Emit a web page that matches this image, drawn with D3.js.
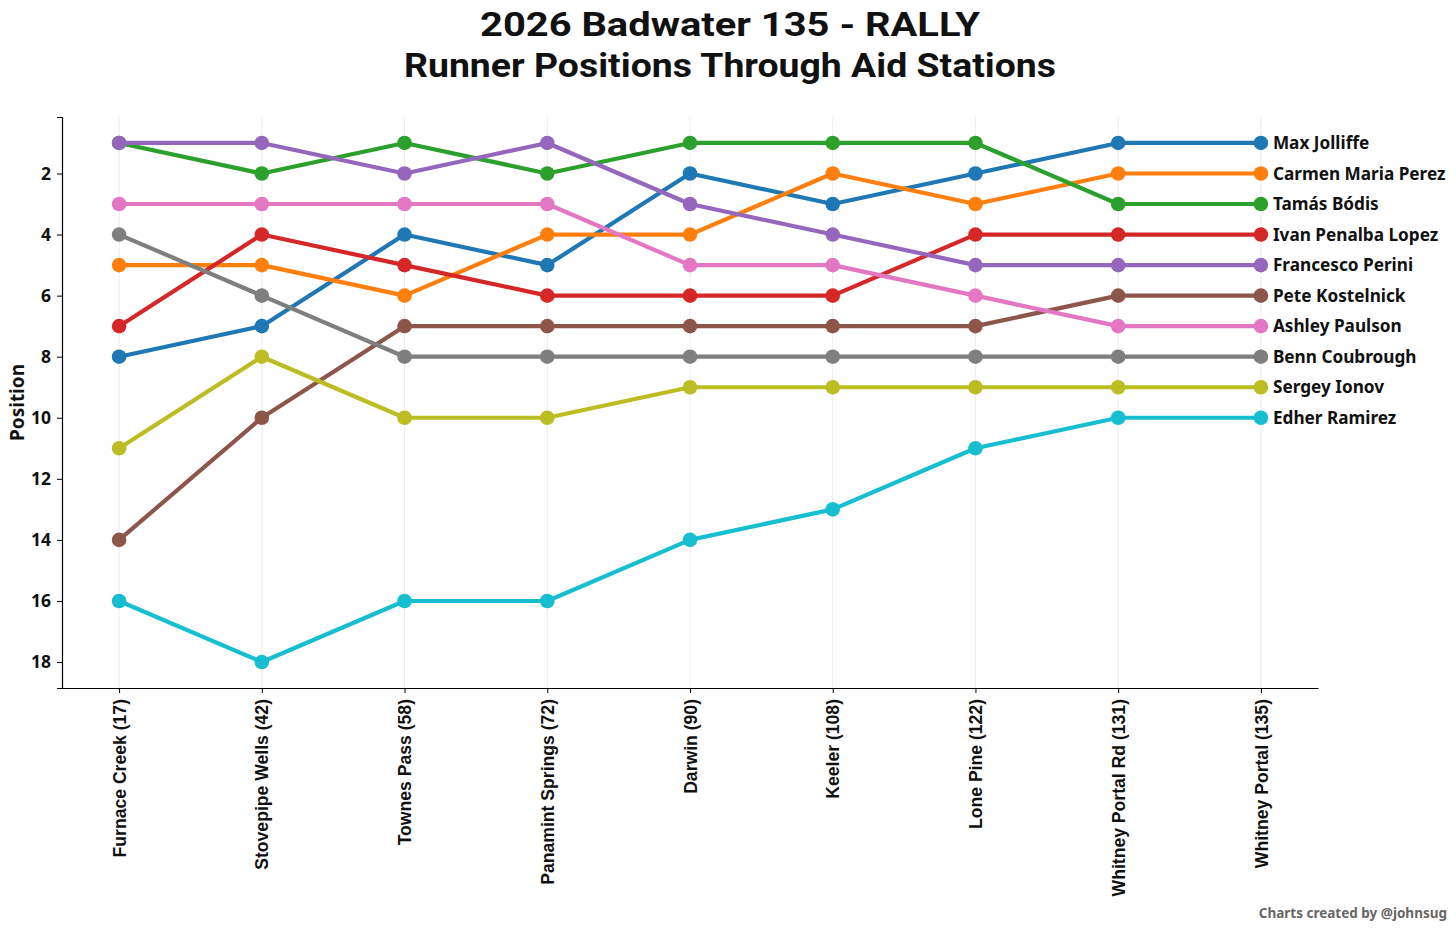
<!DOCTYPE html>
<html>
<head>
<meta charset="utf-8">
<script src="https://cdn.jsdelivr.net/npm/d3@7"></script>
<style>
  body { margin: 0; background: #fff; }
  svg text { fill: #111; }
</style>
</head>
<body>
<div id="chart"></div>
<script>
// Aid stations (mile in brackets)
const stations = ["Furnace Creek (17)", "Stovepipe Wells (42)", "Townes Pass (58)", "Panamint Springs (72)",
                  "Darwin (90)", "Keeler (108)", "Lone Pine (122)", "Whitney Portal Rd (131)", "Whitney Portal (135)"];

const runners = ["Max Jolliffe", "Carmen Maria Perez", "Tamás Bódis", "Ivan Penalba Lopez", "Francesco Perini",
                 "Pete Kostelnick", "Ashley Paulson", "Benn Coubrough", "Sergey Ionov", "Edher Ramirez"];

// positions at each station, one row per runner
const positions = [
  [8, 7, 4, 5, 2, 3, 2, 1, 1],
  [5, 5, 6, 4, 4, 2, 3, 2, 2],
  [1, 2, 1, 2, 1, 1, 1, 3, 3],
  [7, 4, 5, 6, 6, 6, 4, 4, 4],
  [1, 1, 2, 1, 3, 4, 5, 5, 5],
  [14, 10, 7, 7, 7, 7, 7, 6, 6],
  [3, 3, 3, 3, 5, 5, 6, 7, 7],
  [4, 6, 8, 8, 8, 8, 8, 8, 8],
  [11, 8, 10, 10, 9, 9, 9, 9, 9],
  [16, 18, 16, 16, 14, 13, 11, 10, 10]
];

const yTicks = [2, 4, 6, 8, 10, 12, 14, 16, 18];

const colors = ["#1f77b4", "#ff7f0e", "#2ca02c", "#d62728", "#9467bd",
                "#8c564b", "#e377c2", "#7f7f7f", "#bcbd22", "#17becf"];

const W = 1456, H = 930;
const margin = {top: 117, right: 138, bottom: 242, left: 62};
const width = W - margin.left - margin.right,
      height = H - margin.top - margin.bottom;

const svg = d3.select("#chart").append("svg")
    .attr("width", W).attr("height", H);

const plexFont = "'Noto Sans', 'Open Sans', sans-serif";

// Title (Roboto keeps the two close lines from colliding)
svg.append("text")
   .attr("x", 730).attr("y", 36)
   .attr("text-anchor", "middle")
   .attr("textLength", 500).attr("lengthAdjust", "spacingAndGlyphs")
   .style("font-family", "Roboto, sans-serif").style("font-weight", "700").style("font-size", "34px")
   .text("2026 Badwater 135 - RALLY");
svg.append("text")
   .attr("x", 730).attr("y", 77)
   .attr("text-anchor", "middle")
   .attr("textLength", 652).attr("lengthAdjust", "spacingAndGlyphs")
   .style("font-family", "Roboto, sans-serif").style("font-weight", "700").style("font-size", "34px")
   .text("Runner Positions Through Aid Stations");

const g = svg.append("g").attr("transform", `translate(${margin.left},${margin.top})`);

// x scale with matplotlib-like 5% padding
const x = d3.scaleLinear().domain([-0.4, stations.length - 1 + 0.4]).range([0, width]);
const y = d3.scaleLinear().domain([0.15, 18.85]).range([0, height]);

// faint vertical grid
g.selectAll(".grid")
 .data(stations)
 .enter().append("line")
 .attr("x1", (d, i) => x(i)).attr("x2", (d, i) => x(i))
 .attr("y1", 0).attr("y2", height)
 .attr("stroke", "#e8e8e8").attr("stroke-width", 0.8);

// Y axis
const yAxis = g.append("g")
   .call(d3.axisLeft(y).tickValues(yTicks).tickSize(5).tickPadding(6));
yAxis.select(".domain").attr("stroke", "#000").attr("stroke-width", 1.2);
yAxis.selectAll("text")
   .style("font-family", plexFont).style("font-weight", "700").style("font-size", "17.5px").style("fill", "#111");

// X axis
const xAxis = g.append("g")
   .attr("transform", `translate(0,${height})`)
   .call(d3.axisBottom(x).tickValues(d3.range(stations.length)).tickFormat(i => stations[i]).tickSize(5).tickSizeOuter(0));
xAxis.select(".domain").attr("stroke", "#000").attr("stroke-width", 1.2);
xAxis.selectAll("text")
   .attr("transform", "rotate(-90)")
   .attr("x", -11).attr("y", 0).attr("dy", "0.35em")
   .style("text-anchor", "end")
   .style("font-family", "'Liberation Sans', Arial, sans-serif").style("font-weight", "700").style("font-size", "17.6px").style("fill", "#111");

// Y label
svg.append("text")
   .attr("transform", `translate(24, ${margin.top + height / 2}) rotate(-90)`)
   .attr("text-anchor", "middle")
   .style("font-family", plexFont).style("font-weight", "700").style("font-size", "19px")
   .text("Position");

// Lines and points
const line = d3.line()
   .x((d, i) => x(i))
   .y(d => y(d));

runners.forEach((name, r) => {
  g.append("path")
   .datum(positions[r])
   .attr("fill", "none")
   .attr("stroke", colors[r])
   .attr("stroke-width", 4.2)
   .attr("stroke-linejoin", "round")
   .attr("d", line);

  g.selectAll(".dot" + r)
   .data(positions[r])
   .enter().append("circle")
   .attr("cx", (d, i) => x(i))
   .attr("cy", d => y(d))
   .attr("r", 7.3)
   .attr("fill", colors[r]);

  const last = positions[r][positions[r].length - 1];
  g.append("text")
   .attr("x", x(stations.length - 1) + 12)
   .attr("y", y(last))
   .attr("dy", "0.35em")
   .style("font-family", plexFont).style("font-weight", "700").style("font-size", "17.2px")
   .text(name);
});

// Credit
svg.append("text")
   .attr("x", 1447).attr("y", 918)
   .attr("text-anchor", "end")
   .style("font-family", plexFont).style("font-weight", "700").style("font-size", "13.5px")
   .style("fill", "#666")
   .text("Charts created by @johnsug");
</script>
</body>
</html>
